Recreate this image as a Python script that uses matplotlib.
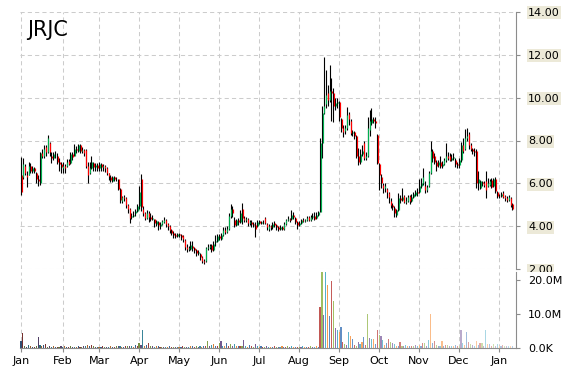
"""
plot.py - JRJC daily candlesticks with a volume panel underneath.

Output: out.png (570 x 370)
"""

import matplotlib
matplotlib.use("Agg")
import matplotlib.pyplot as plt
from matplotlib.colors import to_rgb
import numpy as np

TICKER = "JRJC"
MONTHS = ["Jan", "Feb", "Mar", "Apr", "May", "Jun", "Jul",
          "Aug", "Sep", "Oct", "Nov", "Dec", "Jan"]
# trading-day index of the first session in each month
MONTH_START = [0, 22, 41, 62, 83, 104, 125, 146, 167, 188, 209, 230, 251]

OPEN = [
    6.4, 6.3, 6.8, 6.4, 6.4, 6.8, 6.6, 6.7, 6.5, 6.2, 6.0, 7.4, 7.3, 7.7, 7.45, 7.9, 7.3, 7.2, 7.3, 7.3, 7.0, 6.9,  # Jan
    6.7, 6.8, 6.8, 7.05, 6.95, 7.35, 7.3, 7.6, 7.5, 7.8, 7.5, 7.55, 7.55, 6.8, 6.5, 6.7, 6.95, 6.75, 6.85,  # Feb
    6.7, 6.9, 6.75, 6.8, 6.7, 6.5, 6.3, 6.1, 6.3, 6.2, 6.2, 5.75, 5.2, 5.35, 5.3, 5.0, 4.8, 4.45, 4.5, 4.6, 4.7,  # Mar
    4.95, 6.2, 4.8, 4.6, 4.4, 4.6, 4.45, 4.35, 4.35, 4.1, 4.2, 4.0, 4.1, 4.2, 4.3, 4.1, 4.0, 3.85, 3.7, 3.6, 3.55,  # Apr
    3.65, 3.6, 3.55, 3.35, 3.05, 2.95, 2.95, 3.1, 3.0, 2.9, 2.75, 2.7, 2.55, 2.4, 2.4, 3.0, 3.05, 3.15, 2.9, 3.25, 3.3,  # May
    3.55, 3.4, 3.6, 3.85, 3.75, 3.9, 4.5, 4.8, 4.3, 4.05, 4.3, 4.2, 4.8, 4.4, 4.3, 4.35, 4.15, 4.2, 4.1, 4.05, 4.0,  # Jun
    4.25, 4.15, 4.2, 4.4, 4.1, 3.9, 4.0, 3.95, 4.15, 4.05, 3.95, 3.9, 3.95, 3.9, 4.1, 4.3, 4.35, 4.35, 4.55, 4.4, 4.2,  # Jul
    4.05, 4.15, 4.3, 4.25, 4.3, 4.45, 4.3, 4.45, 4.5, 4.4, 4.55, 4.65, 7.9, 9.3, 9.7, 10.2, 9.9, 10.3, 10.2, 9.6, 9.75,  # Aug
    9.8, 9.0, 8.6, 8.45, 8.6, 9.25, 8.9, 8.35, 8.4, 8.2, 7.3, 7.0, 7.35, 7.9, 7.2, 7.3, 8.5, 8.8, 9.0, 8.9, 8.25,  # Sep
    6.9, 6.3, 5.95, 5.8, 5.75, 5.55, 5.2, 5.0, 4.85, 4.55, 4.75, 5.3, 5.25, 5.4, 5.15, 5.2, 5.4, 5.2, 5.35, 5.45, 5.6,  # Oct
    5.6, 5.9, 6.0, 5.9, 5.7, 5.9, 6.5, 7.5, 7.3, 7.0, 6.85, 7.0, 6.8, 6.9, 7.1, 7.3, 7.3, 7.1, 7.2, 7.1, 6.9,  # Nov
    6.85, 7.1, 7.8, 7.6, 8.1, 8.3, 7.8, 7.6, 7.5, 7.5, 6.0, 5.8, 6.05, 6.0, 6.1, 5.9, 5.95, 6.15, 5.9, 6.2, 5.6,  # Dec
    5.4, 5.4, 5.55, 5.4, 5.3, 5.25, 5.3, 5.05,  # Jan
]
HIGH = [
    7.25, 7.2, 6.9, 6.6, 7.0, 6.95, 6.8, 6.75, 6.55, 6.4, 7.45, 7.6, 7.8, 7.8, 8.25, 7.95, 7.45, 7.45, 7.5, 7.4, 7.2, 7.0,
    7.0, 6.9, 7.15, 7.15, 7.45, 7.45, 7.85, 7.75, 7.85, 7.85, 7.7, 7.6, 7.6, 7.0, 7.0, 7.3, 7.0, 6.95, 6.95,
    7.0, 6.95, 6.9, 6.85, 6.75, 6.5, 6.4, 6.35, 6.35, 6.3, 6.2, 5.8, 5.4, 5.45, 5.35, 5.05, 4.85, 4.6, 4.7, 4.8, 5.05,
    5.9, 6.45, 4.95, 4.65, 4.75, 4.7, 4.6, 4.55, 4.35, 4.3, 4.25, 4.2, 4.3, 4.45, 4.35, 4.15, 4.05, 3.9, 3.8, 3.7, 3.7,
    3.7, 3.65, 3.6, 3.4, 3.2, 3.1, 3.3, 3.3, 3.05, 2.95, 2.9, 2.75, 2.6, 2.5, 3.05, 3.2, 3.2, 3.2, 3.3, 3.6, 3.65,
    3.65, 3.7, 3.95, 3.95, 4.0, 4.6, 5.05, 4.95, 4.45, 4.35, 4.4, 4.75, 5.1, 4.5, 4.45, 4.4, 4.3, 4.3, 4.2, 4.2, 4.3,
    4.3, 4.25, 4.3, 4.45, 4.15, 4.1, 4.05, 4.2, 4.25, 4.1, 4.0, 4.05, 4.0, 4.2, 4.35, 4.5, 4.4, 4.75, 4.65, 4.45, 4.25,
    4.25, 4.35, 4.4, 4.35, 4.5, 4.5, 4.55, 4.6, 4.65, 4.65, 4.7, 8.1, 9.6, 11.9, 11.3, 10.6, 11.5, 10.9, 10.45, 10.0, 10.0,
    9.85, 9.05, 8.7, 8.7, 9.55, 9.35, 9.0, 8.5, 8.45, 8.25, 7.65, 7.6, 7.8, 8.0, 7.45, 9.1, 9.4, 9.5, 9.1, 9.1, 8.3,
    6.95, 6.45, 6.0, 6.0, 5.8, 5.6, 5.3, 5.1, 4.95, 4.8, 5.55, 5.45, 5.8, 5.45, 5.35, 5.45, 5.45, 5.5, 5.6, 5.7, 5.8,
    6.2, 6.25, 6.7, 6.1, 5.95, 6.6, 8.0, 7.6, 7.4, 7.1, 7.1, 7.3, 7.05, 7.2, 7.9, 7.45, 7.4, 7.35, 7.4, 7.2, 7.0,
    7.2, 7.95, 8.1, 8.55, 8.6, 8.4, 7.9, 7.65, 7.65, 7.6, 6.6, 6.15, 6.1, 6.1, 6.6, 6.25, 6.2, 6.25, 6.25, 6.3, 5.65,
    5.5, 5.6, 5.65, 5.45, 5.4, 5.45, 5.35, 5.1,
]
LOW = [
    5.45, 6.2, 6.4, 5.85, 6.4, 6.5, 6.5, 6.5, 6.0, 5.9, 5.95, 7.2, 7.2, 7.3, 7.4, 7.3, 6.95, 7.1, 7.2, 6.9, 6.6, 6.5,
    6.5, 6.5, 6.75, 6.85, 6.9, 7.1, 7.3, 7.4, 7.45, 7.4, 7.4, 7.3, 6.7, 6.0, 6.45, 6.65, 6.6, 6.6, 6.6,
    6.6, 6.6, 6.6, 6.55, 6.4, 6.15, 6.05, 6.05, 6.1, 6.1, 5.7, 5.1, 5.1, 5.2, 4.85, 4.6, 4.15, 4.35, 4.45, 4.5, 4.65,
    4.8, 4.7, 4.5, 4.3, 4.35, 4.2, 4.25, 4.3, 3.95, 4.0, 3.85, 3.9, 4.05, 4.15, 3.95, 3.85, 3.7, 3.6, 3.45, 3.45, 3.5,
    3.5, 3.35, 3.25, 2.9, 2.8, 2.85, 2.9, 2.85, 2.75, 2.6, 2.65, 2.45, 2.3, 2.25, 2.35, 2.9, 2.95, 2.8, 2.85, 3.1, 3.25,
    3.35, 3.35, 3.55, 3.65, 3.7, 3.85, 4.4, 4.45, 3.95, 4.0, 4.05, 4.15, 4.1, 4.2, 4.2, 4.0, 4.05, 3.95, 3.95, 3.5, 3.95,
    4.1, 4.1, 4.1, 4.1, 3.85, 3.8, 3.85, 3.9, 3.95, 3.85, 3.8, 3.85, 3.85, 3.85, 4.05, 4.25, 4.2, 4.3, 4.35, 4.1, 3.9,
    4.0, 4.1, 4.2, 4.2, 4.25, 4.25, 4.25, 4.35, 4.3, 4.35, 4.5, 4.65, 7.2, 9.25, 9.5, 9.6, 9.8, 8.9, 8.85, 9.4, 9.5,
    8.9, 8.4, 8.15, 8.3, 8.5, 8.7, 8.25, 8.2, 8.05, 7.2, 6.85, 6.9, 7.3, 7.1, 7.1, 7.25, 8.2, 8.7, 8.8, 8.6, 6.9,
    5.7, 5.8, 5.55, 5.6, 5.3, 5.1, 4.85, 4.75, 4.45, 4.45, 4.7, 5.1, 5.2, 5.1, 5.05, 5.15, 5.05, 5.15, 5.3, 5.4, 5.4,
    5.55, 5.8, 5.95, 5.55, 5.6, 5.85, 6.45, 7.0, 6.9, 6.6, 6.75, 6.7, 6.7, 6.85, 7.0, 7.1, 7.05, 7.05, 7.1, 6.75, 6.7,
    6.7, 7.0, 7.4, 7.55, 8.0, 7.6, 7.5, 7.35, 7.3, 5.8, 5.7, 5.75, 5.9, 5.85, 5.3, 5.85, 5.9, 5.8, 5.85, 5.55, 5.3,
    5.3, 5.35, 5.3, 5.2, 5.15, 5.2, 4.9, 4.75,
]
CLOSE = [
    5.6, 6.9, 6.5, 6.3, 6.8, 6.6, 6.7, 6.6, 6.2, 6.1, 7.4, 7.3, 7.6, 7.45, 8.1, 7.45, 7.2, 7.35, 7.3, 7.0, 6.9, 6.75,
    6.8, 6.7, 7.0, 6.9, 7.35, 7.25, 7.6, 7.55, 7.8, 7.5, 7.55, 7.4, 6.8, 6.4, 6.7, 7.0, 6.75, 6.85, 6.7,
    6.9, 6.75, 6.8, 6.7, 6.5, 6.35, 6.15, 6.3, 6.2, 6.2, 5.75, 5.25, 5.35, 5.3, 5.0, 4.8, 4.4, 4.5, 4.55, 4.7, 4.95,
    5.6, 4.9, 4.6, 4.4, 4.6, 4.45, 4.35, 4.4, 4.15, 4.25, 4.05, 4.1, 4.25, 4.3, 4.1, 4.0, 3.85, 3.7, 3.6, 3.55, 3.65,
    3.6, 3.5, 3.4, 3.05, 2.95, 3.0, 3.15, 3.0, 2.9, 2.75, 2.8, 2.55, 2.4, 2.35, 3.0, 3.05, 3.1, 2.9, 3.2, 3.3, 3.55,
    3.45, 3.6, 3.85, 3.75, 3.9, 4.5, 4.8, 4.6, 4.05, 4.3, 4.2, 4.6, 4.4, 4.3, 4.35, 4.15, 4.2, 4.1, 4.05, 3.9, 4.2,
    4.15, 4.2, 4.2, 4.15, 3.95, 4.0, 3.95, 4.1, 4.05, 3.95, 3.9, 3.95, 3.9, 4.1, 4.3, 4.35, 4.3, 4.55, 4.45, 4.2, 4.05,
    4.15, 4.3, 4.25, 4.3, 4.4, 4.3, 4.45, 4.5, 4.35, 4.55, 4.65, 7.9, 9.3, 9.6, 10.1, 9.9, 10.3, 10.2, 9.6, 9.75, 9.8,
    9.1, 8.6, 8.4, 8.6, 9.2, 9.0, 8.35, 8.4, 8.2, 7.3, 7.0, 7.35, 7.5, 7.2, 7.3, 8.6, 8.9, 9.0, 8.9, 8.8, 6.95,
    6.4, 6.0, 5.8, 5.9, 5.6, 5.35, 5.0, 4.9, 4.6, 4.75, 5.3, 5.25, 5.35, 5.15, 5.2, 5.35, 5.2, 5.35, 5.5, 5.6, 5.55,
    5.9, 6.0, 6.3, 5.7, 5.85, 6.5, 7.5, 7.2, 7.0, 6.8, 7.0, 6.8, 6.9, 7.1, 7.3, 7.2, 7.1, 7.2, 7.25, 6.9, 6.85,
    7.1, 7.8, 7.5, 8.1, 8.2, 7.8, 7.6, 7.5, 7.45, 6.0, 6.2, 6.1, 6.0, 5.95, 5.7, 6.0, 6.1, 5.85, 6.2, 5.65, 5.4,
    5.4, 5.5, 5.35, 5.3, 5.25, 5.35, 5.0, 4.8,
]
# volume in millions of shares
VOLUME_M = [
    1.9, 4.3, 0.4, 0.3, 0.8, 0.4, 0.3, 0.3, 0.5, 3.1, 0.8, 0.4, 0.7, 1.0, 0.3, 0.4, 0.3, 0.6, 0.3, 0.3, 0.3, 0.4,
    0.3, 0.4, 0.3, 0.3, 0.4, 0.3, 0.3, 0.3, 0.4, 0.3, 0.3, 0.4, 0.4, 0.9, 0.5, 0.9, 0.4, 0.3, 0.3,
    0.3, 0.3, 0.4, 0.3, 0.3, 0.3, 0.4, 0.3, 0.3, 0.4, 0.5, 0.4, 0.3, 0.3, 0.4, 0.4, 0.5, 0.4, 0.3, 0.9, 0.4,
    1.3, 0.8, 5.1, 0.6, 0.9, 1.3, 0.5, 0.4, 0.3, 0.4, 0.6, 0.3, 0.3, 0.3, 0.3, 0.3, 0.4, 0.3, 0.3, 0.3, 0.3,
    0.3, 0.3, 0.4, 0.3, 0.3, 0.3, 0.4, 0.5, 0.3, 0.4, 0.3, 0.6, 0.3, 0.4, 0.5, 1.9, 0.4, 0.8, 1.0, 0.6, 0.5,
    1.4, 1.9, 0.5, 0.4, 1.3, 0.5, 1.2, 0.4, 1.0, 0.4, 0.5, 0.4, 0.6, 2.2, 0.4, 0.3, 0.7, 0.4, 0.3, 1.2, 0.4,
    0.3, 0.4, 0.3, 0.3, 0.4, 0.3, 0.3, 0.3, 0.4, 0.3, 0.3, 0.3, 0.4, 0.3, 0.3, 0.4, 0.3, 0.5, 0.3, 0.3, 0.3,
    0.3, 0.3, 0.4, 0.3, 0.3, 0.3, 0.4, 0.3, 0.3, 0.4, 0.3, 11.9, 22.3, 9.7, 22.3, 18.6, 9.4, 19.8, 13.7, 5.9, 5.2,
    4.5, 6.1, 1.7, 1.0, 0.8, 4.7, 3.5, 2.7, 0.8, 0.6, 1.7, 1.2, 1.7, 3.3, 0.7, 9.9, 3.0, 2.5, 2.7, 1.0, 5.2,
    3.7, 3.5, 2.3, 0.8, 1.3, 2.7, 1.8, 1.5, 1.0, 0.5, 0.5, 1.7, 0.6, 0.5, 0.7, 0.5, 0.4, 0.5, 0.6, 0.7, 0.5,
    0.7, 0.5, 1.3, 1.3, 0.6, 2.3, 9.9, 1.3, 2.0, 0.7, 0.5, 0.6, 2.0, 0.5, 0.8, 0.7, 0.5, 0.6, 0.5, 0.8, 0.4,
    0.6, 5.1, 1.3, 0.8, 4.7, 1.7, 1.2, 0.7, 0.6, 2.0, 0.8, 1.3, 1.3, 0.6, 5.2, 1.2, 1.2, 0.6, 1.2, 0.6, 1.0,
    0.5, 0.6, 0.7, 0.5, 0.5, 0.4, 0.6, 0.5,
]

UP, DOWN = "#00AE4F", "#FF0000"
AXIS_GRAY = "#8C8C8C"
GRID = dict(color="#CCCCCC", lw=0.75, ls=(0, (4, 3)))
OFFICE = ["#4F81BD", "#C0504D", "#9BBB59", "#8064A2", "#4BACC6", "#F79646"]

W, H = 570, 370
LEFT, RIGHT = 20, 515.5
PX_PER_DAY = 1.905


def shade(hexcol, f):
    rgb = np.array(to_rgb(hexcol))
    return tuple(rgb * (1 + f)) if f < 0 else tuple(rgb + (1 - rgb) * f)


def style_right_axis(ax):
    for side in ("top", "left", "bottom"):
        ax.spines[side].set_visible(False)
    ax.spines["right"].set_color(AXIS_GRAY)
    ax.yaxis.tick_right()
    ax.tick_params(axis="y", which="both", direction="out", length=3,
                   color=AXIS_GRAY, labelsize=8, pad=6)
    ax.set_xticks(MONTH_START)
    ax.set_xlim(-0.5, (RIGHT - LEFT) / PX_PER_DAY - 0.5)
    ax.grid(True, axis="x", **GRID)
    ax.set_axisbelow(True)


def draw_price(ax):
    o, h, l, c = map(np.asarray, (OPEN, HIGH, LOW, CLOSE))
    x = np.arange(len(c))
    ax.vlines(x, l, h, color="black", lw=0.8, zorder=2)
    cols = np.where(c >= o, UP, DOWN)
    ax.vlines(x + 0.3, np.minimum(o, c), np.maximum(o, c), colors=cols,
              lw=0.85, zorder=3)
    style_right_axis(ax)
    ax.set_ylim(2, 14)
    ticks = np.arange(2, 15, 2)
    ax.set_yticks(ticks)
    ax.set_yticklabels([f"{t:.2f}" for t in ticks])
    for lab in ax.get_yticklabels():
        lab.set_bbox(dict(boxstyle="square,pad=0.12", fc="#ECE9D8", ec="none"))
    ax.grid(True, axis="y", **GRID)
    ax.tick_params(axis="x", length=0, labelbottom=False)


def draw_volume(ax):
    v = np.asarray(VOLUME_M)
    x = np.arange(len(v))
    tint = np.interp(x, [0, 150, len(v) - 1], [-0.4, 0.0, 0.6])
    colors = [shade(OFFICE[i % 6], t) for i, t in zip(x, tint)]
    ax.bar(x, v, width=0.6, color=colors, linewidth=0, zorder=2)
    style_right_axis(ax)
    ax.spines["bottom"].set_visible(True)
    ax.spines["bottom"].set_color(AXIS_GRAY)
    ax.set_ylim(0, 22.5)
    ax.set_yticks([0, 10, 20])
    ax.set_yticklabels(["0.0K", "10.0M", "20.0M"])
    # white label boxes; the top one hides the lower half of the "2.00" label
    for lab in ax.get_yticklabels():
        lab.set_bbox(dict(boxstyle="square,pad=0.4", fc="white", ec="none"))
    ax.set_xticklabels(MONTHS)
    ax.tick_params(axis="x", direction="out", length=3, color=AXIS_GRAY,
                   labelsize=8, pad=3)


def main():
    fig = plt.figure(figsize=(W / 100, H / 100), dpi=100)
    ax_p = fig.add_axes([LEFT / W, 1 - 269.3 / H, (RIGHT - LEFT) / W,
                         (269.3 - 11.7) / H])
    ax_v = fig.add_axes([LEFT / W, 1 - 347.7 / H, (RIGHT - LEFT) / W,
                         (347.7 - 271.5) / H])
    draw_price(ax_p)
    draw_volume(ax_v)
    fig.text(27 / W, 1 - 36 / H, TICKER, fontsize=15, ha="left",
             va="baseline")
    fig.savefig("out.png", dpi=100)


if __name__ == "__main__":
    main()
